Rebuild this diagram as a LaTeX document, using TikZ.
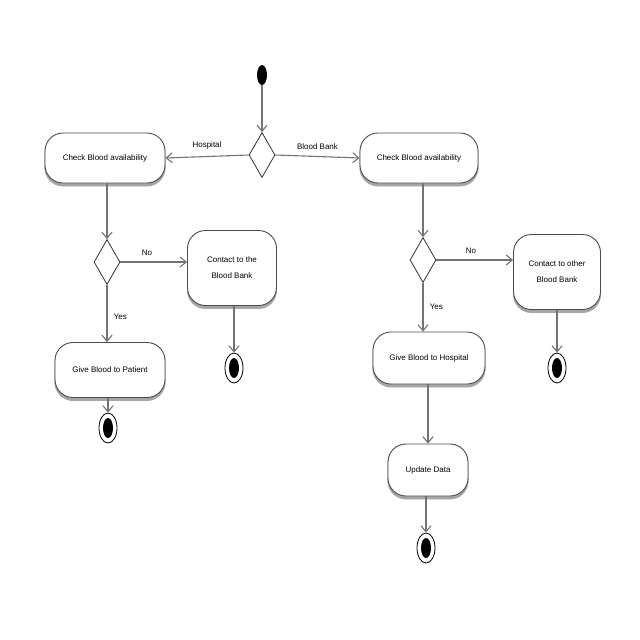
\documentclass[tikz,border=0pt]{standalone}
\usepackage{fontspec}
\setmainfont{Liberation Sans}
\usetikzlibrary{shapes.geometric,arrows.meta,shadows}
\begin{document}
\begin{tikzpicture}[x=1pt,y=-1pt,
  font=\fontsize{8}{10}\selectfont,
  act/.style={draw=black!70, line width=0.9pt, fill=white, rounded corners=18pt, align=center, inner sep=2pt,
    double copy shadow={shadow xshift=0pt, shadow yshift=-1.5pt, draw=black!35, fill=black!35, opacity=1}},
  dec/.style={diamond, draw=black!80, line width=0.8pt, fill=white, minimum width=26pt, minimum height=45pt, inner sep=0pt},
  endo/.style={ellipse, draw=black, line width=0.8pt, fill=white, minimum width=18pt, minimum height=30pt, inner sep=0pt},
  endi/.style={ellipse, fill=black, minimum width=10pt, minimum height=20pt, inner sep=0pt},
  flow/.style={draw=black!55, line width=1.1pt, -{Straight Barb[length=6pt,width=10pt]}},
  lbl/.style={font=\fontsize{8}{10}\selectfont}
]
\useasboundingbox (0,0) rectangle (640,640);
\node[endi] (start) at (262,75) {};
\node[dec] (d1) at (262,155) {};
\node[act, minimum width=120pt, minimum height=50pt] (L1) at (105,158) {Check Blood availability};
\node[act, minimum width=118pt, minimum height=50pt] (R1) at (419,158) {Check Blood availability};
\node[dec] (d2) at (107,262) {};
\node[act, minimum width=89pt, minimum height=75pt] (C1) at (232,268) {Contact to the\\[6pt]Blood Bank};
\node[act, minimum width=110pt, minimum height=55pt] (G1) at (110,370) {Give Blood to Patient};
\node[endo] (E1) at (108,428) {}; \node[endi] at (E1) {};
\node[endo] (E2) at (234,368) {}; \node[endi] at (E2) {};
\node[dec] (d3) at (423,260) {};
\node[act, minimum width=87pt, minimum height=75pt] (C2) at (557,272) {Contact to other\\[6pt]Blood Bank};
\node[endo] (E3) at (557,368) {}; \node[endi] at (E3) {};
\node[act, minimum width=112pt, minimum height=52pt] (G2) at (429,358) {Give Blood to Hospital};
\node[act, minimum width=80pt, minimum height=52pt] (U) at (428,470) {Update Data};
\node[endo] (E4) at (426,548) {}; \node[endi] at (E4) {};

\draw[flow] (start) -- (d1.north);
\draw[flow] (d1.west) -- node[lbl, above=3pt] {Hospital} (L1.east);
\draw[flow] (d1.east) -- node[lbl, above=3pt] {Blood Bank} (R1.west);
\draw[flow] (d2.north |- L1.south) -- (d2.north);
\draw[flow] (d2.east) -- node[lbl, above=3pt, pos=0.4] {No} (C1.west |- d2.east);
\draw[flow] (d2.south) -- node[lbl, right=3pt, pos=0.55] {Yes} (d2.south |- G1.north);
\draw[flow] (G1.south -| E1) -- (E1.north);
\draw[flow] (C1.south -| E2) -- (E2.north);
\draw[flow] (d3.north |- R1.south) -- (d3.north);
\draw[flow] (d3.east) -- node[lbl, above=3pt, pos=0.45] {No} (C2.west |- d3.east);
\draw[flow] (d3.south) -- node[lbl, right=3pt, pos=0.5] {Yes} (d3.south |- G2.north);
\draw[flow] (G2.south -| U) -- (U.north);
\draw[flow] (U.south -| E4) -- (E4.north);
\draw[flow] (C2.south) -- (E3.north);
\end{tikzpicture}
\end{document}
